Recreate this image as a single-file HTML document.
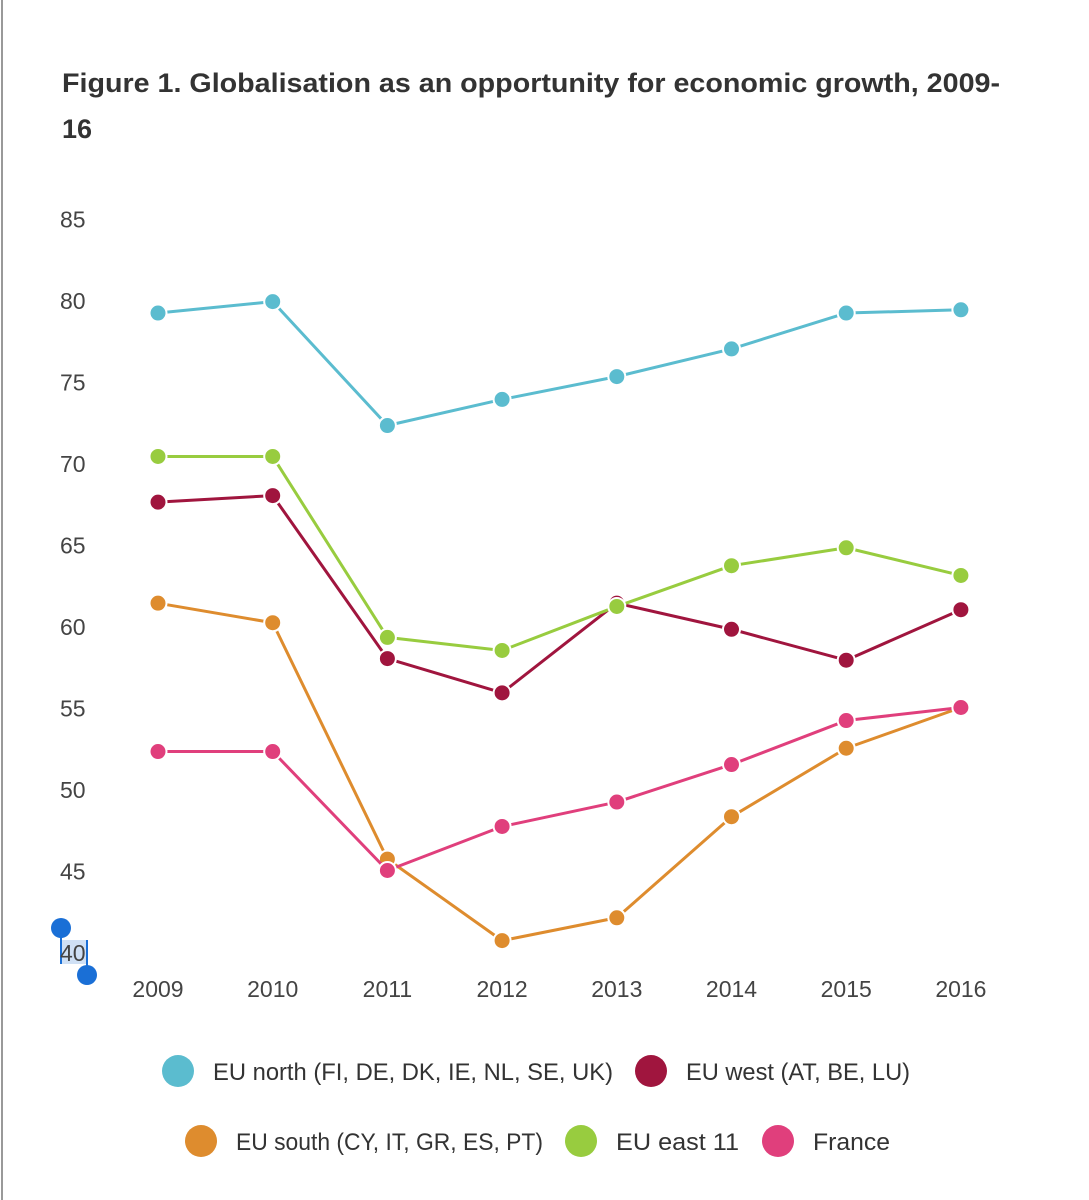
<!DOCTYPE html>
<html>
<head>
<meta charset="utf-8">
<style>
html,body{margin:0;padding:0;background:#fff;}
svg{display:block;font-family:"Liberation Sans",sans-serif;}
</style>
</head>
<body>
<svg id="chart" width="1089" height="1200" viewBox="0 0 1089 1200">
  <line x1="2" y1="0" x2="2" y2="1200" stroke="#999" stroke-width="2"/>
  <text x="62" y="92" font-size="27" font-weight="bold" fill="#333" textLength="938" lengthAdjust="spacingAndGlyphs">Figure 1. Globalisation as an opportunity for economic growth, 2009-</text>
  <text x="62" y="138" font-size="27" font-weight="bold" fill="#333">16</text>
  <g>
    <rect x="60" y="940" width="28" height="24" fill="#cfe0f5"/>
    <line x1="61" y1="928" x2="61" y2="964" stroke="#1a6fd6" stroke-width="2"/>
    <line x1="87" y1="940" x2="87" y2="975" stroke="#1a6fd6" stroke-width="2"/>
    <circle cx="61" cy="928" r="10" fill="#1a6fd6"/>
    <circle cx="87" cy="975" r="10" fill="#1a6fd6"/>
  </g>
  <g id="yaxis"></g>
  <g id="xaxis"></g>
  <g id="series"></g>
  <g id="legend"></g>
</svg>
<script>
const years = ["2009","2010","2011","2012","2013","2014","2015","2016"];
const yTicks = [40,45,50,55,60,65,70,75,80,85];
const seriesNames = ["EU north (FI, DE, DK, IE, NL, SE, UK)","EU west (AT, BE, LU)","EU south (CY, IT, GR, ES, PT)","EU east 11","France"];
const northValues = [79.2,79.9,72.3,73.9,75.3,77.0,79.2,79.4];
const westValues = [67.6,68.0,58.0,55.9,61.4,59.8,57.9,61.0];
const southValues = [61.4,60.2,45.7,40.7,42.1,48.3,52.5,55.0];
const eastValues = [70.4,70.4,59.3,58.5,61.2,63.7,64.8,63.1];
const franceValues = [52.3,52.3,45.0,47.7,49.2,51.5,54.2,55.0];

const NS="http://www.w3.org/2000/svg";
function xPos(i){return 158 + i*114.7;}
function yPos(v){return 952 - (v-40)*16.3;}
function mk(tag,attrs,parent){const e=document.createElementNS(NS,tag);for(const k in attrs)e.setAttribute(k,attrs[k]);parent.appendChild(e);return e;}

const yaxis=document.getElementById('yaxis');
yTicks.forEach(t=>{
  const e=mk('text',{x:60,y:yPos(t)+9,'font-size':23,fill:'#444'},yaxis);
  
  
  e.textContent=t;
});
const xaxis=document.getElementById('xaxis');
years.forEach((y,i)=>{
  const e=mk('text',{x:xPos(i),y:997,'font-size':23,fill:'#444','text-anchor':'middle'},xaxis);
  
  
  e.textContent=y;
});

const colors=["#5bbccf","#a0153e","#de8c2e","#98cc3f","#e03f7c"];
const allValues=[northValues,westValues,southValues,eastValues,franceValues];
const keys=["eu-north","eu-west","eu-south","eu-east","france"];
const order=[0,2,1,3,4];
const sg=document.getElementById('series');
order.forEach(s=>{
  const vals=allValues[s];
  const g=mk('g',{},sg);
  
  
  const p=mk('polyline',{points:vals.map((v,i)=>xPos(i)+','+yPos(v)).join(' '),fill:'none',stroke:colors[s],'stroke-width':3,'stroke-linejoin':'round'},g);
  
  
  vals.forEach((v,i)=>{
    const c=mk('circle',{cx:xPos(i),cy:yPos(v),r:8.5,fill:colors[s],stroke:'#fff','stroke-width':2},g);
    
    
  });
});

const lg=document.getElementById('legend');
const legPos=[[178,1071],[651,1071],[201,1141],[581,1141],[778,1141]];
const legW=[400,224,307,123,77];
seriesNames.forEach((n,s)=>{
  const g=mk('g',{},lg);
  
  
  mk('circle',{cx:legPos[s][0],cy:legPos[s][1],r:16,fill:colors[s]},g);
  const t=mk('text',{x:legPos[s][0]+35,y:legPos[s][1]+9,'font-size':24,fill:'#333',textLength:legW[s],lengthAdjust:'spacingAndGlyphs'},g);
  t.textContent=n;
});
</script>
</body>
</html>
